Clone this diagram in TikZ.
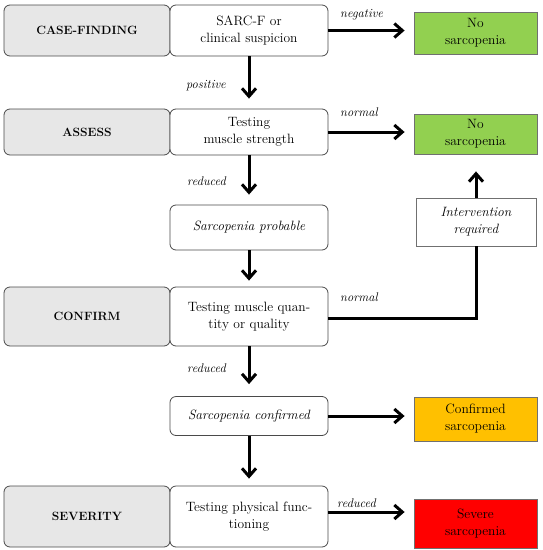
\documentclass[tikz,border=0pt]{standalone}
\usetikzlibrary{arrows.meta}
\definecolor{gfill}{HTML}{E7E7E7}
\definecolor{bord}{HTML}{4A4A4A}
\definecolor{rbord}{HTML}{707070}
\definecolor{nogreen}{HTML}{92D050}
\definecolor{conforange}{HTML}{FFC000}
\definecolor{sevred}{HTML}{FF0000}
\tikzset{
  stagebox/.style={draw=bord, line width=0.8pt, fill=gfill, rounded corners=6pt, minimum width=166pt, inner sep=2pt, align=center, font=\fontsize{12}{15}\selectfont\bfseries},
  testbox/.style={draw=bord, line width=0.8pt, fill=white, rounded corners=6pt, minimum width=158pt, inner sep=2pt, align=center, font=\fontsize{13.5}{17}\selectfont},
  resbox/.style={draw=rbord, line width=0.8pt, minimum width=123pt, inner sep=2pt, align=center, font=\fontsize{13.5}{17}\selectfont},
  itbox/.style={font=\fontsize{13.5}{17}\selectfont\itshape},
  lbl/.style={font=\fontsize{12.5}{15}\selectfont\itshape, inner sep=0pt},
  arr/.style={line width=3pt, -{Straight Barb[length=8pt,width=14pt]}},
  ln/.style={line width=3pt}
}
\begin{document}
\begin{tikzpicture}[x=1pt,y=-1pt]
\useasboundingbox (0,0) rectangle (543,550);
% row 1
\node[stagebox, minimum height=51pt] (s1) at (87,30.5) {CASE-FINDING};
\node[testbox, minimum height=51pt] (m1) at (249,30.5) {SARC-F or\\clinical suspicion};
\node[resbox, fill=nogreen, minimum height=42pt] (r1) at (475.5,33) {No\\sarcopenia};
% row 2
\node[stagebox, minimum height=46pt] (s2) at (87,132) {ASSESS};
\node[testbox, minimum height=46pt] (m2) at (249,132) {Testing\\muscle strength};
\node[resbox, fill=nogreen, minimum height=40pt] (r2) at (475.5,134) {No\\sarcopenia};
% probable
\node[testbox, itbox, minimum height=45pt] (p) at (249,227.5) {Sarcopenia probable};
\node[resbox, itbox, fill=white, minimum width=120pt, minimum height=48pt] (iv) at (476,222) {Intervention\\required};
% row 3
\node[stagebox, minimum height=59pt] (s3) at (87,316.5) {CONFIRM};
\node[testbox, minimum height=59pt] (m3) at (249,316.5) {Testing muscle quan-\\tity or quality};
% confirmed
\node[testbox, itbox, minimum height=39pt] (c) at (249,416) {Sarcopenia confirmed};
\node[resbox, fill=conforange, minimum height=44pt] (r3) at (475.5,419) {Confirmed\\sarcopenia};
% row 4
\node[stagebox, minimum height=61pt] (s4) at (87,516.5) {SEVERITY};
\node[testbox, minimum height=61pt] (m4) at (249,516.5) {Testing physical func-\\tioning};
\node[resbox, fill=sevred, minimum height=49pt] (r4) at (475.5,523.5) {Severe\\sarcopenia};
% horizontal arrows
\draw[arr, shorten >=9pt] (m1.east) -- (m1.east -| r1.west);
\draw[arr, shorten >=9pt] (m2.east) -- (m2.east -| r2.west);
\draw[arr, shorten >=9pt] (c.east) -- (c.east -| r3.west);
\draw[arr, shorten >=9pt] ([yshift=4.5pt]m4.east) -- ([yshift=4.5pt]m4.east -| r4.west);
% vertical arrows
\draw[arr, shorten >=10pt] (m1.south) -- (m2.north);
\draw[arr, shorten >=10pt] (m2.south) -- (p.north);
\draw[arr, shorten >=6pt] (p.south) -- (m3.north);
\draw[arr, shorten >=12pt] (m3.south) -- (c.north);
\draw[arr, shorten >=7pt] (c.south) -- (m4.north);
% intervention path
\draw[ln] ([yshift=-1.5pt]m3.east) -| (iv.south);
\draw[arr, shorten >=17pt] (iv.north) -- (r2.south -| iv.north);
% labels
\node[lbl, anchor=west] (l1) at (340,14.5) {negative};
\node[lbl, anchor=east] (l2) at (226,86) {positive};
\node[lbl, anchor=west] (l3) at (340,112) {normal};
\node[lbl, anchor=east] (l4) at (226,181.5) {reduced};
\node[lbl, anchor=west] (l5) at (340,297) {normal};
\node[lbl, anchor=east] (l6) at (226,368) {reduced};
\node[lbl, anchor=west] (l7) at (337,503) {reduced};
\end{tikzpicture}
\end{document}
